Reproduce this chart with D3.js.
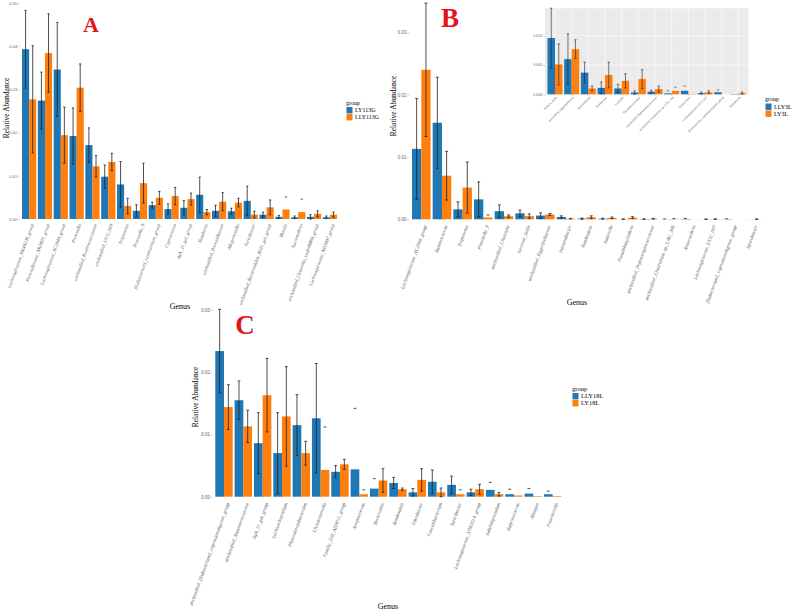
<!DOCTYPE html>
<html>
<head>
<meta charset="utf-8">
<script src="https://cdn.jsdelivr.net/npm/d3@7"></script>
<style>
  body { margin: 0; background: #fff; }
  svg { display: block; }
</style>
</head>
<body>
<div id="chart"></div>
<script>
// Panel A data
const genusA = ["Lachnospiraceae_NK4A136_group", "Prevotellaceae_NK3B31_group", "Lachnospiraceae_AC2044_group",
  "Prevotella", "unclassified_Ruminococcaceae", "unclassified_UCG_010", "Treponema", "Prevotella_9",
  "[Eubacterium]_ruminantium_group", "Coprococcus", "dgA_11_gut_group", "Roseburia", "unclassified_Prevotellaceae",
  "Alloprevotella", "Turicibacter", "unclassified_Bacteroidales_BS11_gut_group", "Blautia", "Succinivibrio",
  "unclassified_Clostridia_vadinBB60_group", "Lachnospiraceae_ND3007_group"];
const meanLY113G = [0.0393, 0.0274, 0.0346, 0.0192, 0.0171, 0.0098, 0.0080, 0.0019, 0.0032, 0.0023,
  0.0026, 0.0056, 0.0019, 0.0018, 0.0042, 0.0010, 0.0005, 0.0004, 0.0005, 0.0004];
const errLY113G = [0.0090, 0.0066, 0.0109, 0.0065, 0.0040, 0.0027, 0.0053, 0.0014, 0.0007, 0.0012,
  0.0017, 0.0041, 0.0013, 0.0007, 0.0034, 0.0006, 0.0003, 0.0003, 0.0005, 0.0003];
const meanLLY113G = [0.0277, 0.0384, 0.0194, 0.0304, 0.0122, 0.0132, 0.0030, 0.0083, 0.0049, 0.0053,
  0.0046, 0.0016, 0.0040, 0.0038, 0.0010, 0.0027, 0.0022, 0.0016, 0.0012, 0.0010];
const errLLY113G = [0.0124, 0.0091, 0.0065, 0.0055, 0.0025, 0.0020, 0.0018, 0.0046, 0.0015, 0.0020,
  0.0014, 0.0006, 0.0021, 0.0010, 0.0008, 0.0017, 0.0029, 0.0030, 0.0007, 0.0006];
const yTicksA = [0, 0.01, 0.02, 0.03, 0.04, 0.05];

// Panel B data (the inset shows the last twelve genera)
const genusB = ["Lachnospiraceae_AC2044_group", "Ruminococcus", "Treponema", "Prevotella_9",
  "unclassified_Clostridia", "Incertae_Sedis", "unclassified_Eggerthellaceae", "Intestinibacter", "Romboutsia",
  "Sutterella", "Pseudobutyrivibrio", "unclassified_Peptostreptococcaceae", "unclassified_Clostridium_sp_CAG_306",
  "Anaerovibrio", "Lachnospiraceae_UCG_007", "[Eubacterium]_coprostanoligenes_group", "Sporobacter"];
const meanLLY3L = [0.0113, 0.0155, 0.0016, 0.0032, 0.0013, 0.00096, 0.00060, 0.00037, 0.00011, 0.00010,
  0.00003, 0.000045, 0.000017, 0.00006, 0.00002, 0.000035, 0.000005];
const errLLY3L = [0.0081, 0.0073, 0.0012, 0.0028, 0.0010, 0.00051, 0.00043, 0.00018, 0.00010, 0.00007,
  0.000028, 0.000025, 0.000043, 0.00008, 0.000018, 0.00004, 0];
const meanLY3L = [0.0240, 0.0070, 0.0051, 0.0003, 0.0005, 0.00051, 0.00077, 0.00010, 0.00033, 0.00023,
  0.00026, 0.00009, 0.000057, 0.000005, 0.000035, 0, 0.00002];
const errLY3L = [0.0107, 0.0039, 0.0041, 0.0004, 0.0002, 0.00035, 0.00016, 0.00004, 0.00022, 0.00012,
  0.00016, 0.00005, 0.000063, 0, 0.000025, 0, 0.000019];
const yTicksB = [0, 0.01, 0.02, 0.03];
const yTicksInset = [0, 0.0005, 0.001];
const insetStart = 5;

// Panel C data
const genusC = ["unclassified_[Eubacterium]_coprostanoligenes_group", "unclassified_Ruminococcaceae",
  "dgA_11_gut_group", "Lachnoclostridium", "Phascolarctobacterium", "Christensenella", "Family_XIII_AD3011_group",
  "Streptococcus", "Bacteroides", "Romboutsia", "Fibrobacter", "Faecalibacterium", "Turicibacter",
  "Lachnospiraceae_XPB1014_group", "Subdoligranulum", "Butyricicoccus", "Alistipes", "Fournierella"];
const meanLLY18L = [0.0234, 0.0155, 0.0086, 0.0070, 0.0115, 0.0126, 0.0040, 0.0044, 0.0013, 0.0022,
  0.0007, 0.0024, 0.0019, 0.0007, 0.0011, 0.0004, 0.0005, 0.0004];
const errLLY18L = [0.0067, 0.0031, 0.0049, 0.0065, 0.0049, 0.0088, 0.0010, 0.0098, 0.0016, 0.0009,
  0.0006, 0.0019, 0.0014, 0.0005, 0.0012, 0.0008, 0.0008, 0.0005];
const meanLY18L = [0.0144, 0.0113, 0.0163, 0.0129, 0.0070, 0.0043, 0.0052, 0.0004, 0.0026, 0.0012,
  0.0027, 0.0007, 0.0004, 0.0012, 0.0004, 0.0002, 0.0001, 0.0001];
const errLY18L = [0.0036, 0.0026, 0.0059, 0.0080, 0.0019, 0.0069, 0.0008, 0.0007, 0.0019, 0.0002,
  0.0018, 0.0007, 0.0007, 0.0008, 0.0003, 0, 0, 0];
const yTicksC = [0, 0.01, 0.02, 0.03];

const blue = "#1f77b4";
const orange = "#ff7f0e";
const serif = "Liberation Serif, Times New Roman, serif";
const sans = "Liberation Sans, Arial, sans-serif";

const svg = d3.select("#chart")
  .append("svg")
  .attr("width", 799)
  .attr("height", 611);

function drawPanel(p) {
  const g = svg.append("g");

  const x = d3.scaleBand()
    .domain(p.genus)
    .range([p.left, p.right])
    .paddingInner(0.1)
    .paddingOuter(0.15);
  const xSub = d3.scaleBand()
    .domain(p.series.map((s, i) => i))
    .range([0, x.bandwidth()]);
  const y = d3.scaleLinear()
    .domain([0, p.yTicks[p.yTicks.length - 1]])
    .range([p.zeroY, p.topY]);

  // grey ggplot-style panel for the inset
  if (p.inset) {
    g.append("rect")
      .attr("x", p.left).attr("y", p.panelTop)
      .attr("width", p.right - p.left).attr("height", p.zeroY + 0.8 - p.panelTop)
      .attr("fill", "#ebebeb");
    const minor = d3.range(p.yTicks[1] / 2, y.invert(p.panelTop), p.yTicks[1]);
    g.selectAll(".minor").data(minor).join("line")
      .attr("x1", p.left).attr("x2", p.right)
      .attr("y1", d => y(d)).attr("y2", d => y(d))
      .attr("stroke", "#fff").attr("stroke-width", 0.3);
    g.selectAll(".major").data(p.yTicks).join("line")
      .attr("x1", p.left).attr("x2", p.right)
      .attr("y1", d => y(d)).attr("y2", d => y(d))
      .attr("stroke", "#fff").attr("stroke-width", 0.6);
    g.selectAll(".vgrid").data(p.genus).join("line")
      .attr("x1", d => x(d) + x.bandwidth() / 2).attr("x2", d => x(d) + x.bandwidth() / 2)
      .attr("y1", p.panelTop).attr("y2", p.zeroY + 0.8)
      .attr("stroke", "#fff").attr("stroke-width", 0.6);
  }

  // y axis
  g.append("g")
    .attr("transform", `translate(${p.left},0)`)
    .call(d3.axisLeft(y).tickValues(p.yTicks).tickFormat(d3.format(p.fmt)).tickSize(1.5).tickPadding(1))
    .call(a => {
      a.select(".domain").remove();
      a.selectAll("line").attr("stroke", "#888").attr("stroke-width", 0.5);
      a.selectAll("text").attr("font-size", p.tickFont).attr("font-family", sans).attr("fill", "#666");
    });

  // x axis with slanted genus labels
  g.append("g")
    .attr("transform", `translate(0,${p.zeroY})`)
    .call(d3.axisBottom(x).tickSize(1.5).tickPadding(0))
    .call(a => {
      a.select(".domain").remove();
      a.selectAll("line").attr("stroke", "#aaa").attr("stroke-width", 0.4);
      a.selectAll("text")
        .attr("font-size", p.lblFont)
        .attr("font-family", serif)
        .attr("font-style", p.inset ? "normal" : "italic")
        .attr("fill", "#555")
        .attr("text-anchor", "end")
        .attr("y", 0)
        .attr("dy", "0.35em")
        .attr("transform", `translate(${p.lblDx},${p.lblDy}) rotate(${-p.angle})`);
    });

  // bars
  p.series.forEach((s, si) => {
    g.selectAll(null)
      .data(s.mean)
      .join("rect")
      .attr("x", (d, i) => x(p.genus[i]) + xSub(si))
      .attr("y", d => y(d))
      .attr("width", xSub.bandwidth())
      .attr("height", d => y(0) - y(d))
      .attr("fill", s.color);
  });

  // error bars; when the lower end falls below zero only the top cap shows
  p.series.forEach((s, si) => {
    const eb = s.mean.map((m, i) => ({ genus: p.genus[i], m: m, e: s.err[i] })).filter(d => d.e > 0);
    const cx = d => x(d.genus) + xSub(si) + xSub.bandwidth() / 2;
    const cap = xSub.bandwidth() * 0.16;
    const full = eb.filter(d => d.m - d.e >= 0);
    g.selectAll(null).data(full).join("line")
      .attr("x1", cx).attr("x2", cx)
      .attr("y1", d => y(d.m + d.e)).attr("y2", d => y(d.m - d.e))
      .attr("stroke", "#222").attr("stroke-width", p.ebWidth);
    g.selectAll(null).data(eb).join("line")
      .attr("x1", d => cx(d) - cap).attr("x2", d => cx(d) + cap)
      .attr("y1", d => y(d.m + d.e)).attr("y2", d => y(d.m + d.e))
      .attr("stroke", "#222").attr("stroke-width", p.ebWidth);
    g.selectAll(null).data(full).join("line")
      .attr("x1", d => cx(d) - cap).attr("x2", d => cx(d) + cap)
      .attr("y1", d => y(d.m - d.e)).attr("y2", d => y(d.m - d.e))
      .attr("stroke", "#222").attr("stroke-width", p.ebWidth);
  });

  if (p.inset) return;

  // axis titles
  g.append("text")
    .attr("transform", `translate(${p.yTitle[0]},${p.yTitle[1]}) rotate(-90)`)
    .attr("text-anchor", "middle").attr("dy", "0.35em")
    .attr("font-family", serif).attr("font-size", 7.5)
    .text("Relative Abundance");
  g.append("text")
    .attr("x", p.xTitle[0]).attr("y", p.xTitle[1])
    .attr("text-anchor", "middle")
    .attr("font-family", serif).attr("font-size", 8)
    .text("Genus");

  // panel letter
  g.append("text")
    .attr("x", p.letterPos[0]).attr("y", p.letterPos[1])
    .attr("text-anchor", "middle")
    .attr("font-family", serif).attr("font-weight", "bold")
    .attr("font-size", p.letterSize).attr("fill", "#e4141b")
    .text(p.letter);

  // legend
  const step = 7;
  const lg = g.append("g").attr("transform", `translate(${p.legend[0]},${p.legend[1]})`);
  lg.append("text")
    .attr("x", 0).attr("y", 0)
    .attr("font-family", serif).attr("font-size", p.legendFont)
    .attr("fill", "#000")
    .text("group");
  const order = p.legendOrder;
  lg.selectAll("rect").data(order).join("rect")
    .attr("x", 0.5).attr("y", (d, i) => 2.5 + i * step)
    .attr("width", 6).attr("height", 6.4)
    .attr("fill", d => p.series[d].color);
  lg.selectAll(".lab").data(order).join("text")
    .attr("x", 9).attr("y", (d, i) => 5.7 + i * step)
    .attr("dy", "0.35em")
    .attr("font-family", serif).attr("font-size", p.legendFont)
    .attr("fill", "#000")
    .text(d => p.series[d].name);
}

// Panel A
drawPanel({
  genus: genusA,
  series: [
    { name: "LY113G", color: blue, mean: meanLY113G, err: errLY113G },
    { name: "LLY113G", color: orange, mean: meanLLY113G, err: errLLY113G }
  ],
  legendOrder: [0, 1],
  yTicks: yTicksA, fmt: ".2f",
  left: 19.65, right: 339.4, zeroY: 219, topY: 3,
  tickFont: 4, lblFont: 4.8, lblDx: 3, lblDy: 5, angle: 70, ebWidth: 0.8,
  yTitle: [6, 108], xTitle: [180, 308.5],
  letter: "A", letterPos: [91, 32], letterSize: 22,
  legend: [346, 104.5], legendFont: 6
});

// Panel B
drawPanel({
  genus: genusB,
  series: [
    { name: "LLY3L", color: blue, mean: meanLLY3L, err: errLLY3L },
    { name: "LY3L", color: orange, mean: meanLY3L, err: errLY3L }
  ],
  legendOrder: [0, 1],
  yTicks: yTicksB, fmt: ".2f",
  left: 408.9, right: 764.4, zeroY: 219.3, topY: 32.4,
  tickFont: 4.5, lblFont: 5, lblDx: 4, lblDy: 6, angle: 70, ebWidth: 0.8,
  yTitle: [393, 106], xTitle: [577, 304.5],
  letter: "B", letterPos: [450, 26.5], letterSize: 27,
  legend: [765, 101], legendFont: 6
});

// Inset of panel B
drawPanel({
  inset: true,
  genus: genusB.slice(insetStart),
  series: [
    { name: "LLY3L", color: blue, mean: meanLLY3L.slice(insetStart), err: errLLY3L.slice(insetStart) },
    { name: "LY3L", color: orange, mean: meanLY3L.slice(insetStart), err: errLY3L.slice(insetStart) }
  ],
  yTicks: yTicksInset, fmt: ".4f",
  left: 545, right: 748.4, zeroY: 94.3, topY: 35.7, panelTop: 8.3,
  tickFont: 3, lblFont: 3, lblDx: 1.5, lblDy: 2.5, angle: 45, ebWidth: 0.6
});

// Panel C
drawPanel({
  genus: genusC,
  series: [
    { name: "LLY18L", color: blue, mean: meanLLY18L, err: errLLY18L },
    { name: "LY18L", color: orange, mean: meanLY18L, err: errLY18L }
  ],
  legendOrder: [0, 1],
  yTicks: yTicksC, fmt: ".2f",
  left: 212.4, right: 564.2, zeroY: 496.7, topY: 310,
  tickFont: 4.5, lblFont: 5, lblDx: 4, lblDy: 6, angle: 70, ebWidth: 0.8,
  yTitle: [195, 397], xTitle: [388, 608.5],
  letter: "C", letterPos: [245, 333.5], letterSize: 27,
  legend: [572, 390.5], legendFont: 6.5
});
</script>
</body>
</html>
